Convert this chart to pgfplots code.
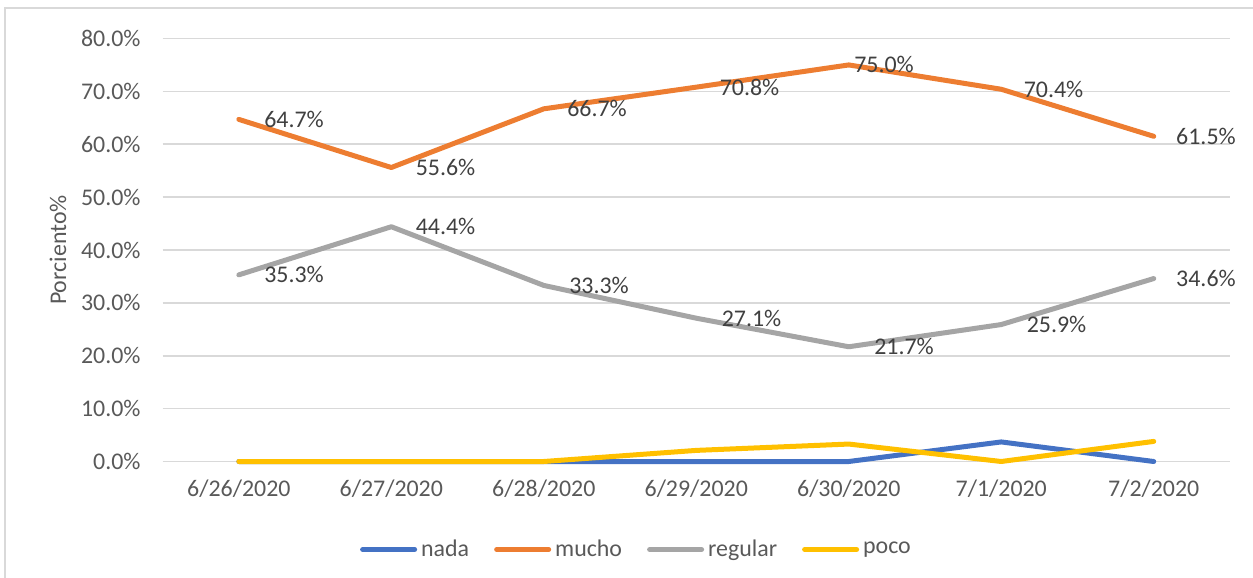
\documentclass[border=0pt]{standalone}
\usepackage{pgfplots}
\pgfplotsset{compat=1.18}
\usepackage{pgfplotstable}
\usepackage{fontspec}
\setmainfont{Carlito}
\definecolor{cnada}{HTML}{4472C4}
\definecolor{cmucho}{HTML}{ED7D31}
\definecolor{cregular}{HTML}{A5A5A5}
\definecolor{cpoco}{HTML}{FFC000}
\definecolor{ctick}{HTML}{595959}
\definecolor{clabel}{HTML}{404040}
\definecolor{cgrid}{HTML}{D9D9D9}
\newcommand\cf{\fontsize{12}{14.4}\selectfont}
\pgfplotstableread{
x nada mucho regular poco dxm dxr
0 0   64.7 35.3 0   11.5 11.5
1 0   55.6 44.4 0   11   11
2 0   66.7 33.3 0   10.5 11.5
3 0   70.8 27.1 2.1 10.5 11.5
4 0   75.0 21.7 3.3 1.5  11.5
5 3.7 70.4 25.9 0   10   11.5
6 0   61.5 34.6 3.8 10   10
}\data
\begin{document}
\begin{tikzpicture}
\begin{axis}[
  scale only axis, width=533.7bp, height=211.5bp,
  at={(0,0)}, anchor=south west,
  xmin=-0.5, xmax=6.5, ymin=0, ymax=80,
  clip=false,
  axis line style={draw=none},
  xtick={0,...,6},
  xticklabels={6/26/2020,6/27/2020,6/28/2020,6/29/2020,6/30/2020,7/1/2020,7/2/2020},
  xtick style={draw=none},
  extra x ticks={-0.5,0.5,1.5,2.5,3.5,4.5,5.5,6.5},
  extra x tick labels={},
  extra x tick style={tick align=outside, major tick length=4bp, tick style={draw=cgrid, line width=0.8bp}},
  ytick={0,10,...,80},
  yticklabels={0.0\%,10.0\%,20.0\%,30.0\%,40.0\%,50.0\%,60.0\%,70.0\%,80.0\%},
  ytick style={draw=none},
  ymajorgrids=true,
  grid style={draw=cgrid, line width=0.8bp},
  tick label style={font=\cf, text=ctick},
  xticklabel style={yshift=-5.5bp},
  yticklabel style={xshift=-7.5bp},
  ylabel={Porciento\%},
  ylabel style={font=\cf, text=ctick, at={(axis description cs:-0.098,0.5)}, anchor=center},
  legend columns=4,
  legend style={at={(axis description cs:0.4435,-0.208)}, anchor=center, draw=none, fill=none,
    font=\cf, text=ctick, column sep=1.5bp, nodes={inner sep=0.5bp},
    /tikz/every even column/.append style={column sep=12bp}},
  legend image code/.code={\draw[#1, line width=2.5bp, line cap=round] (0bp,0bp) -- (26bp,0bp);},
  every axis plot/.append style={line width=2.5bp, line join=round, line cap=round, mark=none},
]
\addplot[cnada] table[x=x, y=nada] {\data};
\addlegendentry{nada}
\addplot[cmucho, nodes near coords={\pgfmathprintnumber[fixed,fixed zerofill,precision=1,assume math mode=true]{\pgfplotspointmeta}\%},
  visualization depends on={\thisrow{dxm} \as \dx},
  every node near coord/.append style={anchor=west, inner sep=0pt, xshift=\dx bp, font=\cf, text=clabel}]
  table[x=x, y=mucho] {\data};
\addlegendentry{mucho}
\addplot[cregular, nodes near coords={\pgfmathprintnumber[fixed,fixed zerofill,precision=1,assume math mode=true]{\pgfplotspointmeta}\%},
  visualization depends on={\thisrow{dxr} \as \dx},
  every node near coord/.append style={anchor=west, inner sep=0pt, xshift=\dx bp, font=\cf, text=clabel}]
  table[x=x, y=regular] {\data};
\addlegendentry{regular}
\addplot[cpoco] table[x=x, y=poco] {\data};
\addlegendentry{poco}
\end{axis}
\draw[cgrid, line width=1bp] (-78.8bp,-70bp) -- (-78.8bp,226.75bp) -- (560bp,226.75bp);
\pgfresetboundingbox
\useasboundingbox (-81.3bp,-58.25bp) rectangle (545.2bp,230.75bp);
\end{tikzpicture}
\end{document}
